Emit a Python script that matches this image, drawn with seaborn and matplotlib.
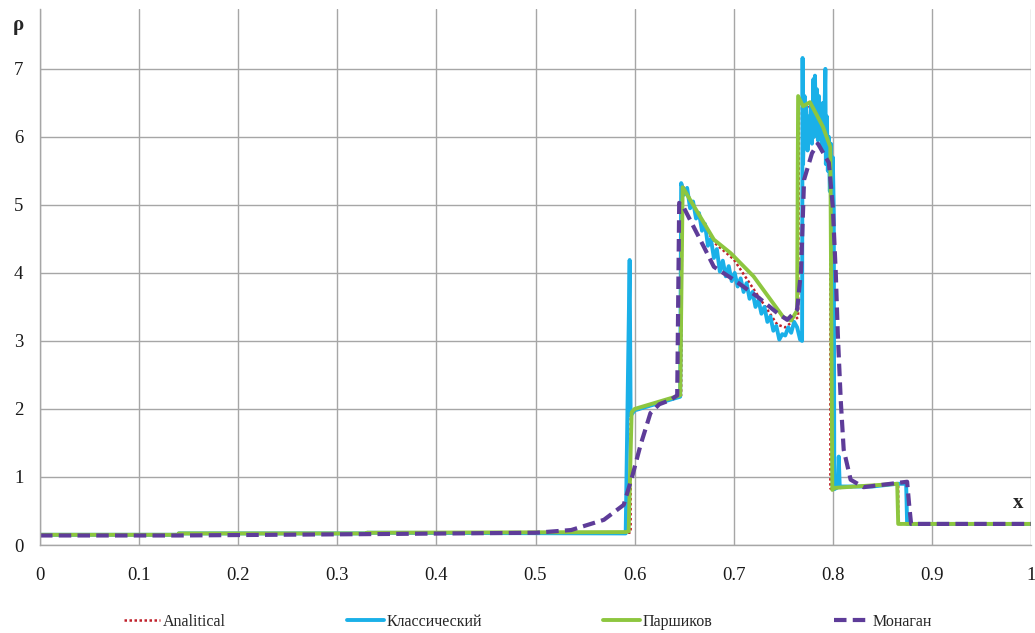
import pandas as pd
import seaborn as sns
import matplotlib.pyplot as plt

# analytical solution
x_an = [0, 0.14, 0.14, 0.33, 0.33, 0.596, 0.596, 0.647, 0.648, 0.68, 0.70, 0.744, 0.752,
        0.765, 0.766, 0.78, 0.7975, 0.7975, 0.866, 0.866, 1.0]
y_an = [0.15, 0.15, 0.17, 0.17, 0.18, 0.18, 1.95, 2.2, 5.3, 4.45, 4.2, 3.24, 3.2,
        3.35, 6.5, 6.4, 5.9, 0.83, 0.9, 0.31, 0.31]

# Parshikov
x_gr = [0, 0.14, 0.14, 0.33, 0.33, 0.591, 0.594, 0.597, 0.60, 0.646, 0.6485, 0.655, 0.68,
        0.697, 0.72, 0.75, 0.758, 0.764, 0.765, 0.770, 0.777, 0.790, 0.7975, 0.7995, 0.802,
        0.865, 0.866, 1.0]
y_gr = [0.15, 0.15, 0.17, 0.17, 0.18, 0.19, 0.2, 1.95, 2.0, 2.2, 5.26, 5.1, 4.49,
        4.29, 3.95, 3.35, 3.3, 3.45, 6.6, 6.45, 6.51, 6.15, 5.85, 0.81, 0.84,
        0.9, 0.31, 0.31]

# classic SPH (noisy)
x_bl = [0, 0.14, 0.14, 0.33, 0.33, 0.591, 0.595, 0.596, 0.60, 0.646,
        0.647, 0.650, 0.653, 0.656, 0.659, 0.662, 0.665, 0.668, 0.671, 0.674, 0.677,
        0.680, 0.683, 0.686, 0.689, 0.692, 0.695, 0.698, 0.701, 0.704, 0.707, 0.710,
        0.713, 0.716, 0.719, 0.722, 0.725, 0.728, 0.731, 0.734, 0.737, 0.740, 0.743,
        0.746, 0.749, 0.752, 0.755, 0.758, 0.761, 0.764, 0.767,
        0.769, 0.7695, 0.770, 0.7715, 0.772, 0.773, 0.7745, 0.776, 0.777, 0.778, 0.779,
        0.7805, 0.781, 0.782, 0.783, 0.784, 0.785, 0.786, 0.787, 0.788, 0.789, 0.790,
        0.791, 0.7925, 0.793, 0.794, 0.795, 0.796, 0.797, 0.798, 0.799, 0.800, 0.801,
        0.8015, 0.805, 0.806, 0.807, 0.84, 0.865, 0.874, 0.875, 1.0]
y_bl = [0.15, 0.15, 0.17, 0.17, 0.18, 0.17, 4.19, 1.9, 1.98, 2.18,
        5.32, 5.15, 5.25, 4.95, 5.05, 4.80, 4.88, 4.62, 4.72, 4.40, 4.50,
        4.22, 4.35, 4.02, 4.18, 3.95, 4.10, 3.88, 4.00, 3.80, 3.92, 3.72,
        3.85, 3.62, 3.72, 3.50, 3.60, 3.40, 3.50, 3.28, 3.36, 3.15, 3.22,
        3.02, 3.10, 3.08, 3.20, 3.12, 3.28, 3.20, 3.02,
        3.0, 7.16, 5.6, 6.6, 5.9, 6.45, 5.8, 6.3, 6.0, 6.5, 5.9,
        6.85, 6.0, 6.9, 6.1, 6.7, 5.95, 6.6, 6.0, 6.4, 5.8, 6.5,
        5.9, 7.0, 5.6, 6.3, 5.5, 6.0, 5.2, 5.9, 4.9, 5.7, 4.9,
        0.82, 0.85, 1.3, 0.86, 0.86, 0.9, 0.9, 0.31, 0.31]

# Monaghan
x_mo = [0, 0.14, 0.33, 0.50, 0.536, 0.569, 0.589, 0.598, 0.606, 0.616, 0.625, 0.636,
        0.643, 0.644, 0.645, 0.65, 0.67, 0.68, 0.70, 0.724, 0.744, 0.754, 0.764, 0.768,
        0.771, 0.779, 0.785, 0.796, 0.800, 0.803, 0.805, 0.808, 0.811, 0.818, 0.831,
        0.875, 0.877, 0.879, 1.0]
y_mo = [0.14, 0.14, 0.16, 0.18, 0.22, 0.37, 0.59, 1.03, 1.47, 1.94, 2.07, 2.13,
        2.2, 3.6, 5.03, 4.95, 4.38, 4.09, 3.9, 3.65, 3.41, 3.31, 3.46, 4.04,
        5.37, 5.76, 5.9, 5.62, 4.97, 4.0, 3.12, 2.13, 1.4, 0.96, 0.85,
        0.93, 0.6, 0.31, 0.31]

x_ticks = [0, 0.1, 0.2, 0.3, 0.4, 0.5, 0.6, 0.7, 0.8, 0.9, 1.0]
x_labels = ["0", "0.1", "0.2", "0.3", "0.4", "0.5", "0.6", "0.7", "0.8", "0.9", "1"]
y_ticks = [0, 1, 2, 3, 4, 5, 6, 7]

sns.set_style("white")
plt.rcParams['font.family'] = ['Liberation Serif', 'DejaVu Serif']

fig = plt.figure(figsize=(10.35, 6.33), dpi=100)
ax = fig.add_axes([40 / 1035, 1 - 545 / 633, 991 / 1035, 536 / 633])

an = pd.DataFrame({"x": x_an, "y": y_an})
bl = pd.DataFrame({"x": x_bl, "y": y_bl})
gr = pd.DataFrame({"x": x_gr, "y": y_gr})
mo = pd.DataFrame({"x": x_mo, "y": y_mo})

sns.lineplot(data=an, x="x", y="y", ax=ax, estimator=None, sort=False,
             color="#C0202A", lw=1.8, linestyle=(0, (1, 1)), label="Analitical")
sns.lineplot(data=bl, x="x", y="y", ax=ax, estimator=None, sort=False,
             color="#1AB0E8", lw=2.8, label="Классический")
sns.lineplot(data=gr, x="x", y="y", ax=ax, estimator=None, sort=False,
             color="#8DC63F", lw=2.8, label="Паршиков")
sns.lineplot(data=mo, x="x", y="y", ax=ax, estimator=None, sort=False,
             color="#5E3C99", lw=3.0, linestyle=(0, (3, 1.5)), label="Монаган")

ax.set_xlim(0, 1)
ax.set_ylim(0, 7.88)
ax.set_xticks(x_ticks)
ax.set_xticklabels(x_labels)
ax.set_yticks(y_ticks)
ax.grid(True, color="#a6a6a6", lw=1.0)
ax.set_axisbelow(True)
for s in ["top", "right"]:
    ax.spines[s].set_visible(False)
for s in ["left", "bottom"]:
    ax.spines[s].set_color("#a6a6a6")
    ax.spines[s].set_linewidth(1.0)
ax.tick_params(axis="both", length=6, width=1.0, color="#a6a6a6", labelsize=13.5,
               labelcolor="#1a1a1a")
ax.tick_params(axis="x", pad=10)
ax.tick_params(axis="y", pad=6)
ax.set_xlabel("")
ax.set_ylabel("")

fig.text(18 / 1035, 1 - 25 / 633, "ρ", fontsize=15, fontweight="bold", ha="center", va="center")
fig.text(1018 / 1035, 1 - 503 / 633, "x", fontsize=15, fontweight="bold", ha="center", va="center")

ax.get_legend().remove()
h, l = ax.get_legend_handles_labels()
fig.legend(h, l, loc="center", bbox_to_anchor=(0.51, 1 - 622 / 633), ncol=4, frameon=False,
           fontsize=11.5, handlelength=2.3, handletextpad=0.15, columnspacing=7.6)

fig.savefig("out.png", dpi=100)
